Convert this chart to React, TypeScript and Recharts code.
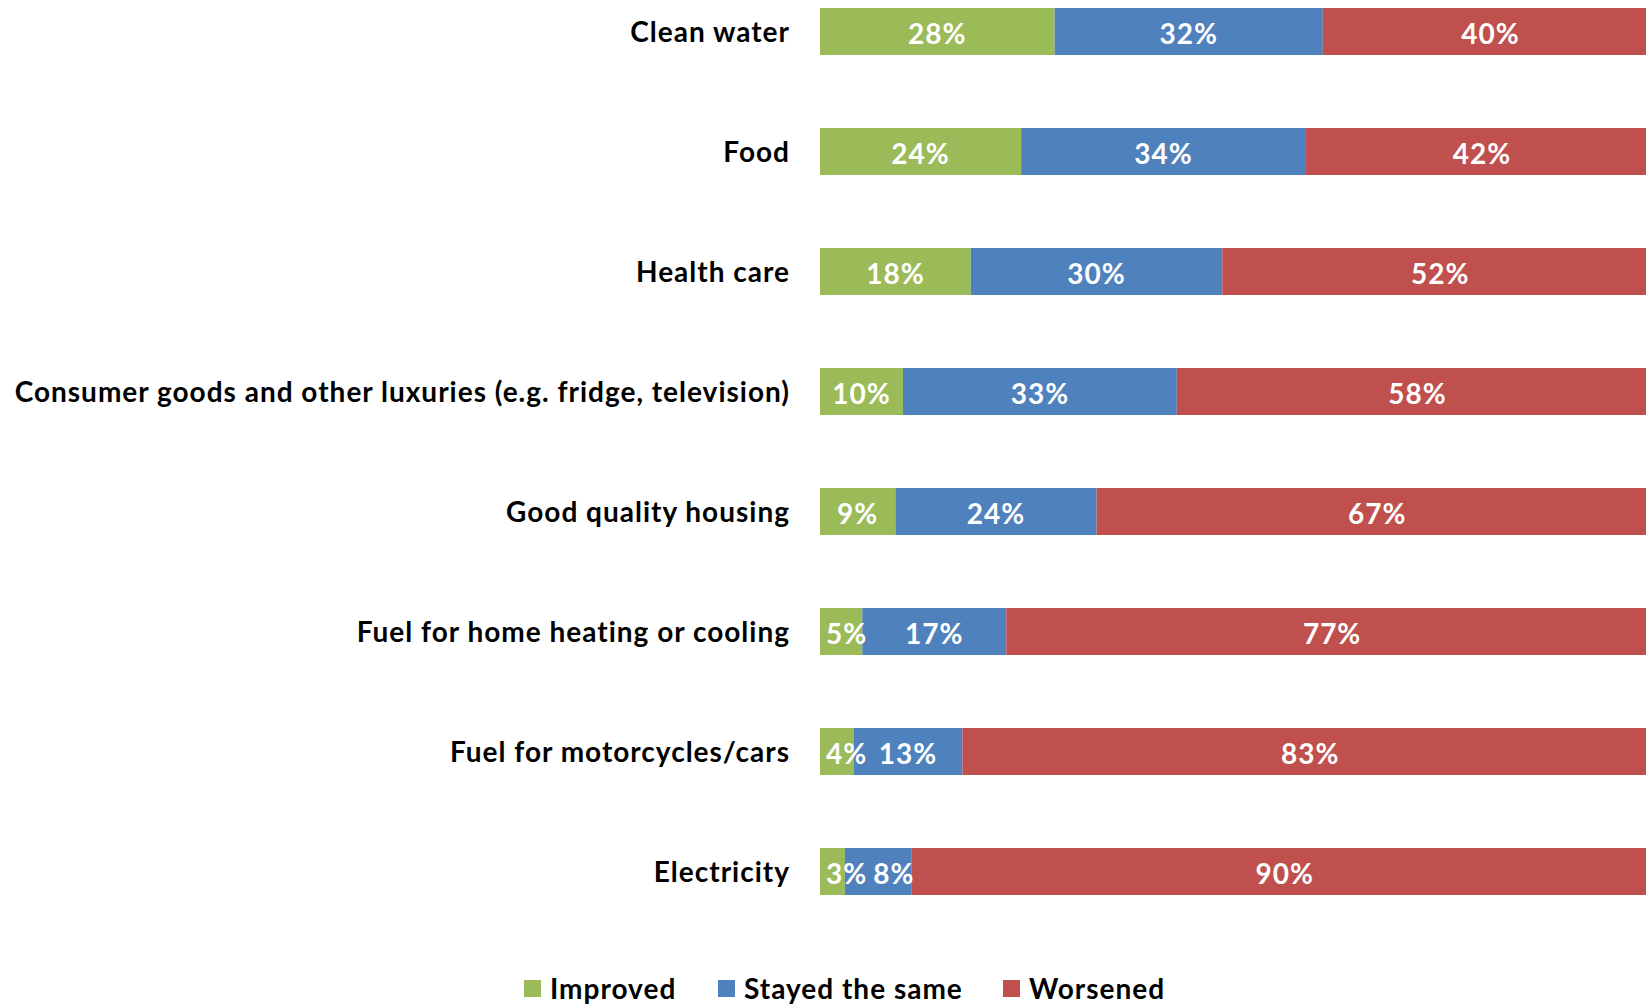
import React from "react";
import { BarChart, Bar, XAxis, YAxis, LabelList } from "recharts";

const categories = [
  "Clean water",
  "Food",
  "Health care",
  "Consumer goods and other luxuries (e.g. fridge, television)",
  "Good quality housing",
  "Fuel for home heating or cooling",
  "Fuel for motorcycles/cars",
  "Electricity",
];
const improved = [28, 24, 18, 10, 9, 5, 4, 3];
const stayedSame = [32, 34, 30, 33, 24, 17, 13, 8];
const worsened = [40, 42, 52, 58, 67, 77, 83, 90];

const series = [
  { key: "improved", name: "Improved", color: "#9BBB59", values: improved, legendX: 524 },
  { key: "same", name: "Stayed the same", color: "#4F81BD", values: stayedSame, legendX: 718 },
  { key: "worsened", name: "Worsened", color: "#C0504D", values: worsened, legendX: 1003 },
];

const data = categories.map((name, i) => ({
  name,
  improved: improved[i],
  same: stayedSame[i],
  worsened: worsened[i],
}));

const FONT = "Lato, 'DejaVu Sans Condensed', sans-serif";
const FS = 28;
const LS = 1;

let ctx: CanvasRenderingContext2D | null = null;
const textWidth = (s: string) => {
  if (!ctx) ctx = document.createElement("canvas").getContext("2d");
  if (!ctx) return s.length * FS * 0.55;
  ctx.font = `bold ${FS}px ${FONT}`;
  return ctx.measureText(s).width + s.length * LS;
};

// Excel-like label placement: centred, but nudged right so it stays off the
// axis edge and does not overlap the previous label in the same row.
const makeLabel = (k: number) => (props: any) => {
  const { x, y, width, height, index } = props;
  const vals = series.map((s) => s.values[index]);
  const unit = width / vals[k];
  const before = vals.slice(0, k).reduce((a, b) => a + b, 0);
  const left0 = x - before * unit;
  let prevRight = left0;
  let pos = 0;
  let acc = 0;
  for (let j = 0; j <= k; j++) {
    const txt = `${vals[j]}%`;
    const tw = textWidth(txt);
    const center = left0 + (acc + vals[j] / 2) * unit;
    const l = Math.max(center - tw / 2, prevRight + 6);
    prevRight = l + tw;
    pos = l;
    acc += vals[j];
  }
  return (
    <text
      x={pos}
      y={y + height / 2 + 1}
      textAnchor="start"
      dominantBaseline="central"
      fill="#fff"
      fontFamily={FONT}
      fontWeight="bold"
      fontSize={FS}
      letterSpacing={LS}
    >
      {`${vals[k]}%`}
    </text>
  );
};

const CategoryTick = (props: any) => {
  const { x, y, payload } = props;
  return (
    <text
      x={x}
      y={y}
      textAnchor="end"
      dominantBaseline="central"
      fontFamily={FONT}
      fontWeight="bold"
      fontSize={FS}
      letterSpacing={LS}
      fill="#000"
    >
      {payload.value}
    </text>
  );
};

export default function App() {
  return (
    <div
      style={{
        position: "absolute",
        left: 0,
        top: 0,
        width: 1646,
        height: 1005,
        overflow: "hidden",
        background: "#fff",
      }}
    >
      <div style={{ position: "absolute", left: 0, top: -29, width: 1700 }}>
        <BarChart
          width={1658}
          height={960}
          data={data}
          layout="vertical"
          stackOffset="expand"
          margin={{ top: 0, right: 0, left: 0, bottom: 0 }}
        >
          <XAxis type="number" domain={[0, 1]} hide />
          <YAxis
            type="category"
            dataKey="name"
            width={820}
            axisLine={false}
            tickLine={false}
            tickSize={0}
            tickMargin={30}
            tick={<CategoryTick />}
            interval={0}
          />
          {series.map((s, k) => (
            <Bar
              key={s.key}
              dataKey={s.key}
              name={s.name}
              stackId="a"
              fill={s.color}
              barSize={47}
              isAnimationActive={false}
            >
              <LabelList dataKey={s.key} content={makeLabel(k)} />
            </Bar>
          ))}
        </BarChart>
      </div>
      {series.map((s) => (
        <div
          key={s.key}
          style={{
            position: "absolute",
            left: s.legendX,
            top: 970,
            height: 36,
            display: "flex",
            alignItems: "center",
            fontFamily: FONT,
            fontWeight: "bold",
            fontSize: FS,
            letterSpacing: LS,
            color: "#000",
            whiteSpace: "nowrap",
          }}
        >
          <span style={{ width: 17, height: 17, background: s.color, display: "inline-block", marginRight: 9 }} />
          <span>{s.name}</span>
        </div>
      ))}
    </div>
  );
}
